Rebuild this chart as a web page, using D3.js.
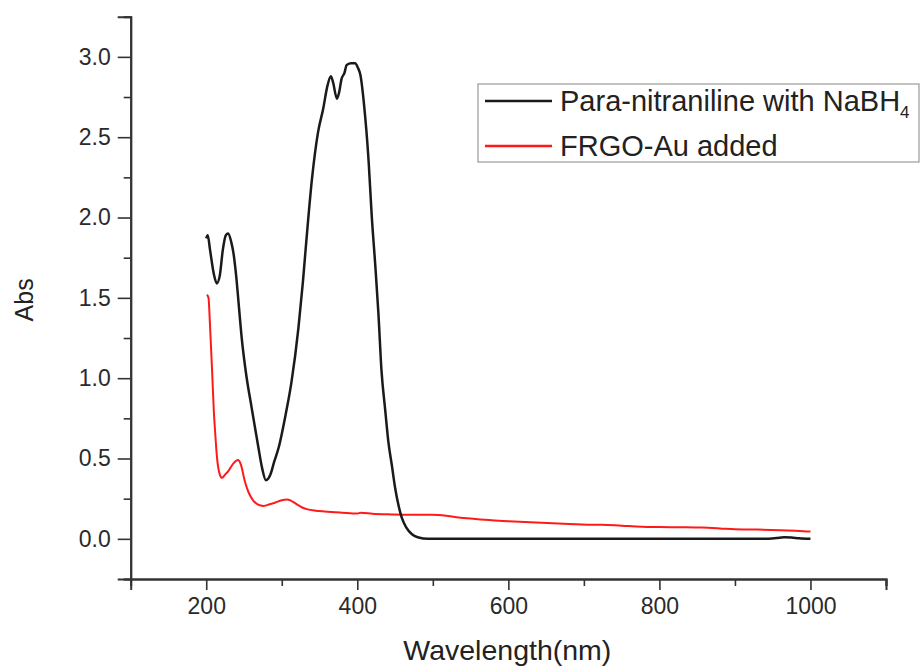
<!DOCTYPE html>
<html>
<head>
<meta charset="utf-8">
<script src="https://cdn.jsdelivr.net/npm/d3@7"></script>
<style>
  body { margin: 0; background: #fff; }
  text { font-family: "Liberation Sans", Arial, sans-serif; fill: #222; }
</style>
</head>
<body>
<script>
// series names for the legend
var seriesNames = ["Para-nitraniline with NaBH", "FRGO-Au added"];

// black curve: wavelength (nm) and absorbance
var blackNm = [200, 202, 205, 210, 214, 218, 222, 226, 229, 233, 236, 240, 243, 247, 253, 260, 269, 274, 279, 285, 290, 296, 305, 313, 322, 328, 333, 340, 348, 355, 360, 365, 368, 373, 376, 379, 383, 386, 392, 397, 401, 404, 409, 415, 419, 424, 428, 432, 437, 441, 446, 450, 455, 459, 465, 472, 480, 494, 600, 800, 940, 955, 965, 975, 985, 1000];
var blackAbs = [1.87, 1.89, 1.80, 1.65, 1.59, 1.64, 1.80, 1.89, 1.90, 1.85, 1.78, 1.62, 1.46, 1.25, 1.02, 0.82, 0.57, 0.44, 0.365, 0.40, 0.48, 0.57, 0.77, 0.98, 1.31, 1.60, 1.88, 2.24, 2.53, 2.68, 2.81, 2.88, 2.84, 2.74, 2.78, 2.86, 2.90, 2.95, 2.96, 2.96, 2.93, 2.89, 2.70, 2.35, 2.02, 1.69, 1.40, 1.05, 0.80, 0.61, 0.45, 0.32, 0.20, 0.13, 0.07, 0.03, 0.01, 0.0, 0.0, 0.0, 0.0, 0.005, 0.01, 0.008, 0.003, 0.0];

// red curve
var redNm = [201, 203, 205, 208, 210, 212, 214, 216, 218, 221, 225, 229, 236, 242, 246, 251, 256, 262, 268, 276, 284, 291, 300, 307, 313, 320, 327, 333, 345, 357, 380, 400, 405, 420, 446, 470, 499, 520, 534, 556, 578, 600, 622, 644, 666, 690, 711, 724, 750, 777, 800, 830, 856, 880, 900, 930, 960, 980, 1000];
var redAbs = [1.52, 1.50, 1.33, 1.02, 0.80, 0.65, 0.52, 0.44, 0.40, 0.38, 0.40, 0.42, 0.47, 0.49, 0.46, 0.36, 0.29, 0.24, 0.215, 0.205, 0.215, 0.225, 0.24, 0.245, 0.235, 0.215, 0.195, 0.185, 0.175, 0.17, 0.163, 0.158, 0.162, 0.156, 0.152, 0.15, 0.15, 0.142, 0.133, 0.124, 0.116, 0.11, 0.105, 0.10, 0.095, 0.091, 0.087, 0.088, 0.082, 0.076, 0.073, 0.072, 0.07, 0.065, 0.06, 0.058, 0.054, 0.05, 0.045];

// tick values
var xMajor = [200, 400, 600, 800, 1000];
var xMinor = [100, 300, 500, 700, 900, 1100];
var yMajor = [0, 0.5, 1.0, 1.5, 2.0, 2.5, 3.0];
var yMinor = [-0.25, 0.25, 0.75, 1.25, 1.75, 2.25, 2.75, 3.25];

var margin = {top: 16.7, right: 35, bottom: 91, left: 130.7},
    width = 921 - margin.left - margin.right,
    height = 670 - margin.top - margin.bottom;

var svg = d3.select("body").append("svg")
    .attr("width", 921)
    .attr("height", 670)
  .append("g")
    .attr("transform", "translate(" + margin.left + "," + margin.top + ")");

var x = d3.scaleLinear().domain([100, 1100]).range([0, width]);
var y = d3.scaleLinear().domain([-0.25, 3.25]).range([height, 0]);

function pts(xs, ys) {
    return xs.map(function(d, i) { return [d, ys[i]]; });
}

var line = d3.line()
    .x(function(d) { return x(d[0]); })
    .y(function(d) { return y(d[1]); })
    .curve(d3.curveMonotoneX);

svg.append("path")
    .datum(pts(redNm, redAbs))
    .attr("fill", "none")
    .attr("stroke", "#ff1a1a")
    .attr("stroke-width", 2)
    .attr("d", line);

svg.append("path")
    .datum(pts(blackNm, blackAbs))
    .attr("fill", "none")
    .attr("stroke", "#1a1a1a")
    .attr("stroke-width", 2.5)
    .attr("d", line);

// minor ticks first, then majors with labels
svg.append("g")
    .attr("class", "axis")
    .attr("transform", "translate(0," + height + ")")
    .call(d3.axisBottom(x).tickValues(xMinor).tickSize(7).tickFormat(""));
svg.append("g")
    .attr("class", "axis")
    .attr("transform", "translate(0," + height + ")")
    .call(d3.axisBottom(x).tickValues(xMajor).tickSize(11).tickPadding(8).tickFormat(d3.format("d")));

svg.append("g")
    .attr("class", "axis")
    .call(d3.axisLeft(y).tickValues(yMinor).tickSize(7).tickFormat(""));
svg.append("g")
    .attr("class", "axis")
    .call(d3.axisLeft(y).tickValues(yMajor).tickSize(13).tickPadding(7).tickFormat(d3.format(".1f")));

svg.selectAll(".axis path.domain").attr("stroke", "#333").attr("stroke-width", 2);
svg.selectAll(".axis line").attr("stroke", "#333").attr("stroke-width", 1.6);
svg.selectAll(".axis text").style("font-size", "23px").style("fill", "#2a2a2a");

// axis titles
svg.append("text")
    .attr("x", width / 2 - 1)
    .attr("y", height + 81)
    .style("text-anchor", "middle")
    .style("font-size", "28.5px")
    .text("Wavelength(nm)");

svg.append("text")
    .attr("transform", "translate(" + (-margin.left + 33) + "," + (height / 2 + 2) + ") rotate(-90)")
    .style("text-anchor", "middle")
    .style("font-size", "25px")
    .text("Abs");

// legend
var legend = svg.append("g")
    .attr("transform", "translate(" + (478 - margin.left) + "," + (84 - margin.top) + ")");

legend.append("rect")
    .attr("width", 441)
    .attr("height", 78)
    .attr("fill", "#fff")
    .attr("stroke", "#999")
    .attr("stroke-width", 1.2);

var legendColors = ["#1a1a1a", "#ff1a1a"];
seriesNames.forEach(function(name, i) {
    var ly = 17 + i * 45;
    legend.append("line")
        .attr("x1", 7).attr("x2", 74)
        .attr("y1", ly).attr("y2", ly)
        .attr("stroke", legendColors[i])
        .attr("stroke-width", 2.5);
    var t = legend.append("text")
        .attr("x", 82)
        .attr("y", ly + 10)
        .style("font-size", "29px")
        .text(name);
    if (i === 0) {
        t.append("tspan")
            .attr("dy", 7)
            .style("font-size", "17px")
            .text("4");
    }
});
</script>
</body>
</html>
